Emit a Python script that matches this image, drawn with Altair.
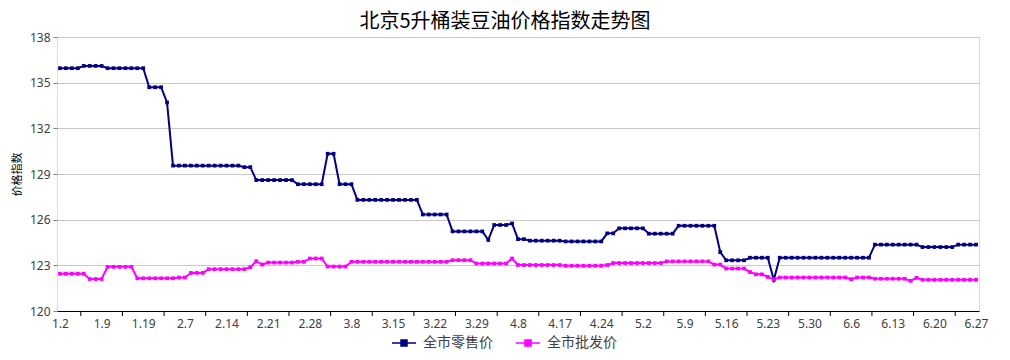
import altair as alt
import pandas as pd

# ---- data ----
series_names = ["全市零售价", "全市批发价"]
tick_labels = ["1.2", "1.9", "1.19", "2.7", "2.14", "2.21", "2.28", "3.8", "3.15", "3.22",
               "3.29", "4.8", "4.17", "4.24", "5.2", "5.9", "5.16", "5.23", "5.30", "6.6",
               "6.13", "6.20", "6.27"]

# retail (全市零售价), as (value, count) runs
retail_runs = [
    (135.95, 4), (136.1, 4), (135.95, 7), (134.7, 3), (133.7, 1), (129.55, 12),
    (129.45, 2), (128.6, 7), (128.33, 5), (130.33, 2), (128.33, 3), (127.3, 11),
    (126.34, 5), (125.23, 6), (124.67, 1), (125.65, 3), (125.75, 1), (124.72, 2),
    (124.62, 6), (124.57, 7), (125.1, 2), (125.43, 5), (125.08, 5), (125.6, 7),
    (123.87, 1), (123.33, 4), (123.5, 4), (122.05, 1), (123.5, 16), (124.36, 8),
    (124.2, 6), (124.36, 4),
]
# wholesale (全市批发价), as (value, count) runs
wholesale_runs = [
    (122.45, 5), (122.1, 3), (122.9, 5), (122.15, 7), (122.2, 2), (122.5, 3),
    (122.75, 7), (122.88, 1), (123.27, 1), (123.05, 1), (123.18, 5), (123.23, 2),
    (123.45, 3), (122.92, 4), (123.23, 17), (123.34, 4), (123.12, 6), (123.45, 1),
    (123.02, 8), (122.97, 7), (123.02, 1), (123.15, 9), (123.26, 8), (123.05, 2),
    (122.79, 4), (122.56, 1), (122.41, 2), (122.24, 1), (122.09, 1), (122.2, 12),
    (122.09, 1), (122.2, 3), (122.12, 6), (121.98, 1), (122.18, 1), (122.05, 10),
]


def expand(runs):
    out = []
    for v, n in runs:
        out.extend([v] * n)
    return out


retail = expand(retail_runs)
wholesale = expand(wholesale_runs)
N = len(retail)

rows = []
for name, vals in zip(series_names, [retail, wholesale]):
    for i, v in enumerate(vals):
        rows.append({"x": i + 0.5, "value": v, "series": name})
df = pd.DataFrame(rows)

label_vals = [7 * k + 0.5 for k in range(len(tick_labels))]
tick_df = pd.DataFrame({"b": [7 * k + 4 for k in range((N - 4) // 7 + 1)]})

label_arr = "[" + ",".join("'" + t + "'" for t in tick_labels) + "]"

colors = ["#000080", "#FF00FF"]
W, H = 922, 274

x_enc = alt.X("x:Q", scale=alt.Scale(domain=[0, N], nice=False, zero=False),
              axis=alt.Axis(values=label_vals, labelExpr=label_arr + "[floor(datum.value / 7)]",
                            ticks=False, grid=False, domain=True, domainColor="#000000",
                            labelPadding=7, labelFontSize=12, labelColor="#404040",
                            labelFont="Noto Sans", title=None, labelFlush=False))
y_enc = alt.Y("value:Q", scale=alt.Scale(domain=[120, 138], nice=False, zero=False),
              axis=alt.Axis(values=list(range(120, 139, 3)), grid=True, gridColor="#c8c8c8",
                            domain=False, tickColor="#808080", tickSize=4, labelPadding=3,
                            labelFontSize=12, labelColor="#404040", labelFont="Noto Sans",
                            title="价格指数", titleFont="Noto Sans CJK SC", titleFontSize=11,
                            titleFontWeight="normal", titleColor="#000000",
                            titleX=-40, titleY=H / 2, titleAngle=270, titleAlign="center",
                            titleBaseline="middle"))

scale_c = alt.Scale(domain=series_names, range=colors)

legend = alt.Legend(orient="none", legendX=334, legendY=293, direction="horizontal", title=None,
                    symbolType="M-1,0L1,0M-0.25,-0.25L0.25,-0.25L0.25,0.25L-0.25,0.25Z",
                    symbolSize=576, symbolStrokeWidth=1.5, labelFontSize=14,
                    labelFont="Noto Sans CJK SC", labelColor="#404040", labelOffset=6,
                    columnPadding=20, padding=0)

lines = alt.Chart(df).mark_line(strokeWidth=2).encode(
    x=x_enc, y=y_enc,
    stroke=alt.Stroke("series:N", scale=scale_c, sort=series_names, legend=legend),
    detail="series:N",
)

points = alt.Chart(df).mark_point(shape="square", filled=True, size=14, opacity=1,
                                   strokeWidth=0).encode(
    x="x:Q", y="value:Q",
    fill=alt.Fill("series:N", scale=scale_c, sort=series_names, legend=legend),
    stroke=alt.Stroke("series:N", scale=scale_c, sort=series_names, legend=legend),
)

ticks = alt.Chart(tick_df).mark_rule(color="#000000", strokeWidth=1).encode(
    x=alt.X("b:Q"), y=alt.value(H), y2=alt.value(H + 5)
)

chart = alt.layer(lines, points, ticks).properties(
    width=W, height=H,
    title=alt.Title("北京5升桶装豆油价格指数走势图", font="Noto Sans CJK SC", fontSize=20,
                    fontWeight="normal", color="#000000", anchor="middle", dx=-13, offset=-1),
    autosize=alt.AutoSizeParams(type="none"),
    padding={"left": 49, "top": 29, "right": 23, "bottom": 40},
).configure_view(stroke=None).configure(background="white")

chart.save("out.html", embed_options={"renderer": "svg", "actions": False})
